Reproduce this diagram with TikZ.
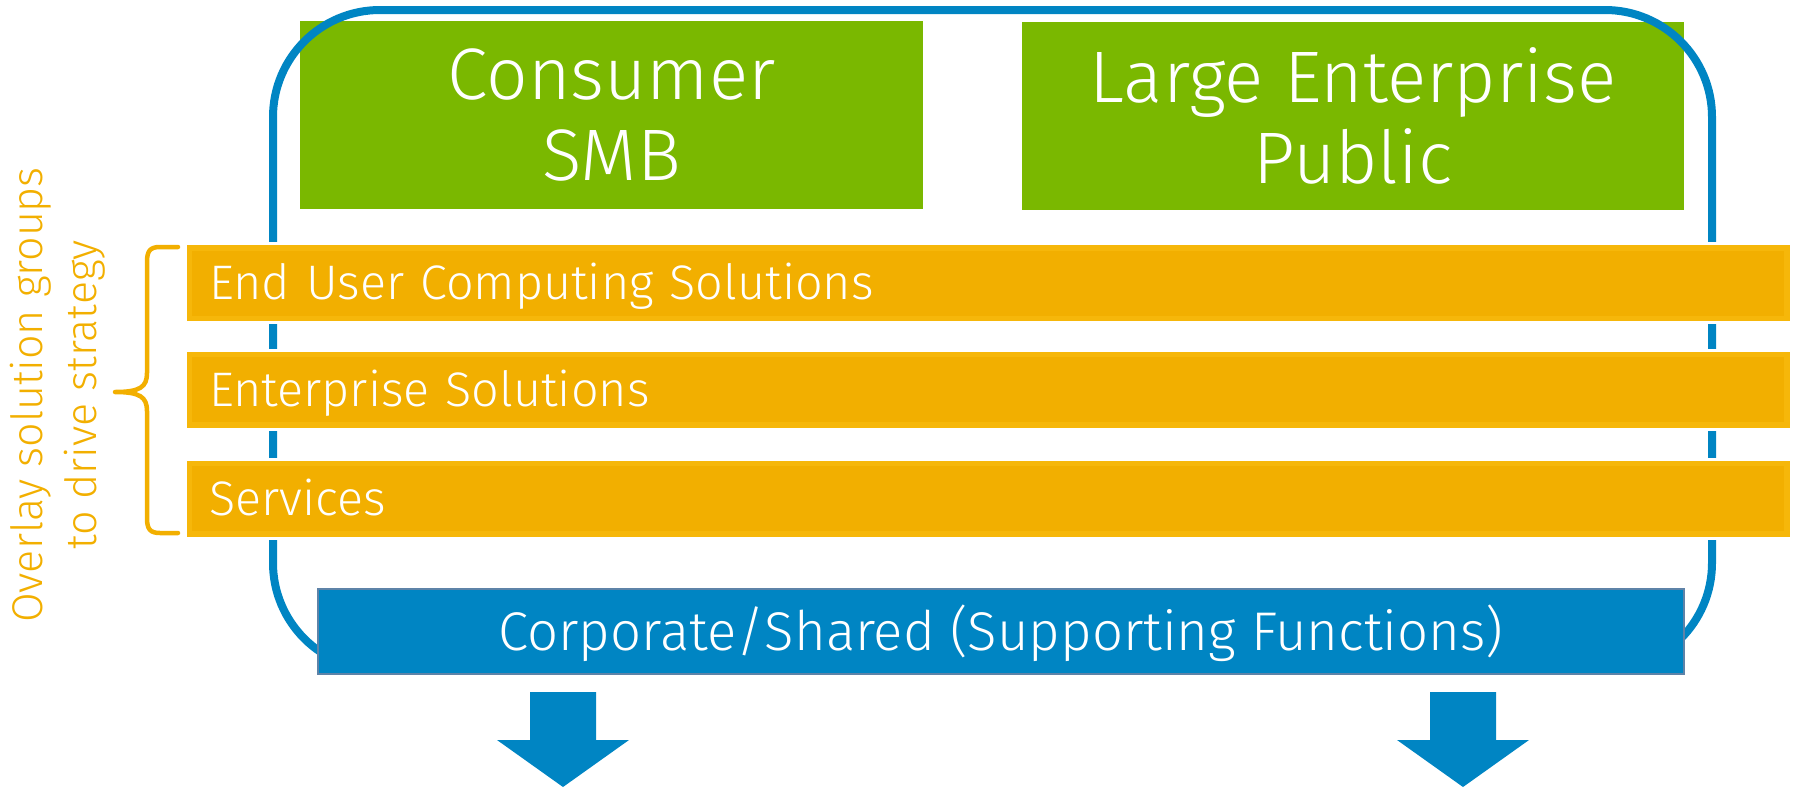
\documentclass[tikz,border=0pt]{standalone}
\usepackage{fontspec}
\setmainfont{Fira Sans Light}
\definecolor{dgreen}{HTML}{7AB800}
\definecolor{dorange}{HTML}{F2AF00}
\definecolor{dorangehi}{HTML}{F6B70A}
\definecolor{dblue}{HTML}{0085C3}
\definecolor{dblueedge}{HTML}{5E83A8}
\begin{document}
\begin{tikzpicture}[x=1pt,y=-1pt,
  greenbox/.style={fill=dgreen, text=white, inner sep=0pt, align=center,
    font={\fontsize{73pt}{81pt}\selectfont}},
  bar/.style={fill=dorangehi, draw=white, line width=3pt, text=white,
    minimum width=1606pt, minimum height=79pt, inner xsep=24pt, inner ysep=0pt,
    text width=1558pt, align=left, text height=33pt, text depth=0pt,
    font={\fontsize{48.5pt}{54pt}\selectfont},
    path picture={\fill[dorange] ([shift={(7pt,-7pt)}]path picture bounding box.north west)
      rectangle ([shift={(-7pt,7pt)}]path picture bounding box.south east);}},
  corpbox/.style={fill=dblue, draw=dblueedge, line width=1.5pt, text=white,
    minimum width=1366pt, minimum height=85pt, inner sep=0pt,
    text height=38pt, text depth=0pt, font={\fontsize{54.5pt}{60pt}\selectfont}},
  frame/.style={draw=dblue, line width=8pt, rounded corners=107pt},
  blockarrow/.style={fill=dblue},
  bracestyle/.style={draw=dorange, line width=4.5pt, line cap=round, line join=round},
  sidetext/.style={rotate=90, align=center, text=dorange, inner sep=0pt,
    font={\fontsize{43pt}{54pt}\selectfont}}
]
\useasboundingbox (0,0) rectangle (1802,788);

% market segment boxes
\node[greenbox, minimum width=623pt, minimum height=188pt] (consumer) at (611.5,115) {Consumer\\SMB};
\node[greenbox, minimum width=662pt, minimum height=188pt] (large) at (1353,116) {Large Enterprise\\Public};

% enclosing frame
\draw[frame] (273,10) rectangle (1712,670);

% solution group bars
\node[bar] (euc) at (988,283) {End User Computing Solutions};
\node[bar] (ent) at (988,389.5) {Enterprise Solutions};
\node[bar] (svc) at (988,498.5) {Services};

% corporate box
\node[corpbox] (corp) at (1001,631.5) {Corporate/Shared (Supporting Functions)};

% block arrows
\coordinate (tipL) at (563,787);
\coordinate (tipR) at (1463,787);
\fill[blockarrow] (530,692) -- (596,692) -- (596,740) -- (629,740) -- (tipL) -- (497,740) -- (530,740) -- cycle;
\fill[blockarrow] (1430,692) -- (1496,692) -- (1496,740) -- (1529,740) -- (tipR) -- (1397,740) -- (1430,740) -- cycle;

% brace
\coordinate (braceTop) at (178,247);
\coordinate (braceBot) at (178,533);
\coordinate (braceTip) at (115,392);
\draw[bracestyle] (braceTop) -- (160,247) .. controls (150,247) and (147,251) .. (147,262)
  -- (147,373) .. controls (147,387) and (140,392) .. (braceTip)
  .. controls (140,392) and (147,397) .. (147,411)
  -- (147,518) .. controls (147,529) and (150,533) .. (160,533) -- (braceBot);

% side label
\node[sidetext] (overlay) at (58,395) {Overlay solution groups\\to drive strategy};
\end{tikzpicture}
\end{document}
